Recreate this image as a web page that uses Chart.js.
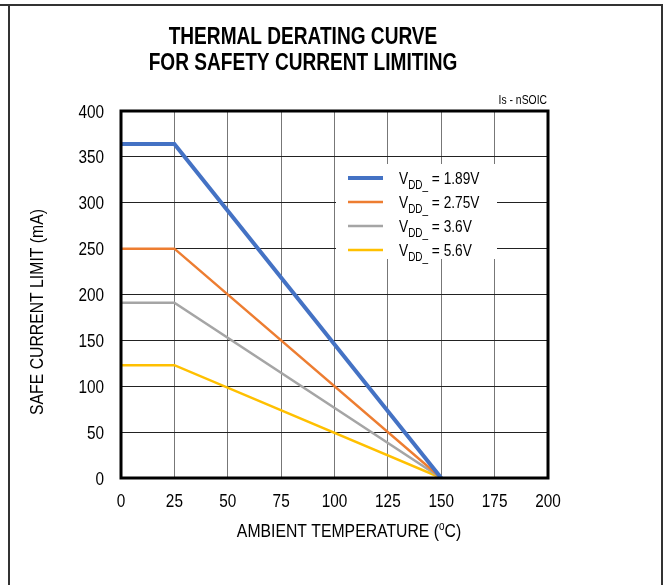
<!DOCTYPE html>
<html>
<head>
<meta charset="utf-8">
<script src="https://cdn.jsdelivr.net/npm/chart.js@4/dist/chart.umd.min.js"></script>
<style>
html,body{margin:0;padding:0;background:#fff;}
#wrap{position:relative;width:664px;height:585px;}
</style>
</head>
<body>
<div id="wrap"><canvas id="c" width="664" height="585"></canvas></div>
<script>
// ---- data ----
const temps = [0, 25, 150];
const seriesNames = ['1.89V', '2.75V', '3.6V', '5.6V'];
const s189 = [364, 364, 0];
const s275 = [250, 250, 0];
const s36  = [191, 191, 0];
const s56  = [123, 123, 0];
const xTicks = [0, 25, 50, 75, 100, 125, 150, 175, 200];
const yTicks = [0, 50, 100, 150, 200, 250, 300, 350, 400];

const FONT = "'Liberation Sans', Arial, sans-serif";
const NARROW = 0.83;
const colors = ['#4472C4', '#ED7D31', '#A5A5A5', '#FFC000'];
const widths = [4, 2.5, 2.5, 2.5];
const allSeries = [s189, s275, s36, s56];

const datasets = allSeries.map((s, i) => ({
  label: 'VDD_ = ' + seriesNames[i],
  data: temps.map((t, j) => ({x: t, y: s[j]})),
  borderColor: colors[i],
  backgroundColor: colors[i],
  borderWidth: widths[i],
  pointRadius: 0,
  tension: 0,
  fill: false,
  order: i
}));

// draws horizontally condensed text (to mimic a narrow face); returns drawn width
function nText(ctx, txt, x, y, font, align) {
  ctx.save();
  ctx.font = font;
  ctx.textBaseline = 'alphabetic';
  const w = ctx.measureText(txt).width * NARROW;
  let x0 = x;
  if (align === 'center') x0 = x - w / 2;
  else if (align === 'right') x0 = x - w;
  ctx.translate(x0, y);
  ctx.scale(NARROW, 1);
  ctx.textAlign = 'left';
  ctx.fillText(txt, 0, 0);
  ctx.restore();
  return w;
}
function nWidth(ctx, txt, font) {
  ctx.save(); ctx.font = font;
  const w = ctx.measureText(txt).width * NARROW;
  ctx.restore(); return w;
}

const decor = {
  id: 'decor',
  beforeDraw(chart) {
    const ctx = chart.ctx;
    ctx.save();
    ctx.fillStyle = '#fff';
    ctx.fillRect(0, 0, chart.width, chart.height);
    ctx.strokeStyle = '#333';
    ctx.lineWidth = 2;
    ctx.beginPath();
    ctx.moveTo(0, 5); ctx.lineTo(663, 5);
    ctx.moveTo(9, 5); ctx.lineTo(9, 585);
    ctx.moveTo(662, 5); ctx.lineTo(662, 585);
    ctx.stroke();
    ctx.fillStyle = '#000';
    // title
    const tf = "bold 23px " + FONT;
    nText(ctx, 'THERMAL DERATING CURVE', 303, 44, tf, 'center');
    nText(ctx, 'FOR SAFETY CURRENT LIMITING', 303, 70, tf, 'center');
    // subtitle
    nText(ctx, 'Is - nSOIC', 547, 104, "12.5px " + FONT, 'right');
    // y axis title
    ctx.save();
    ctx.translate(43, 312);
    ctx.rotate(-Math.PI / 2);
    nText(ctx, 'SAFE CURRENT LIMIT (mA)', 0, 0, "19px " + FONT, 'center');
    ctx.restore();
    // x axis title with superscript o
    const big = "19px " + FONT, small = "12px " + FONT;
    const a = 'AMBIENT TEMPERATURE (', b = 'C)';
    const total = nWidth(ctx, a, big) + nWidth(ctx, 'o', small) + nWidth(ctx, b, big);
    let x0 = 349 - total / 2;
    x0 += nText(ctx, a, x0, 537, big, 'left');
    x0 += nText(ctx, 'o', x0, 530, small, 'left');
    nText(ctx, b, x0, 537, big, 'left');
    ctx.restore();
  },
  afterDraw(chart) {
    const ctx = chart.ctx;
    const ca = chart.chartArea;
    ctx.save();
    ctx.strokeStyle = '#000';
    ctx.lineWidth = 3;
    ctx.strokeRect(ca.left, ca.top, ca.right - ca.left, ca.bottom - ca.top);
    // tick labels
    ctx.fillStyle = '#000';
    const tkf = "18.5px " + FONT;
    const xs = chart.scales.x, ys = chart.scales.y;
    xs.ticks.forEach(t => nText(ctx, String(t.value), xs.getPixelForValue(t.value), 507, tkf, 'center'));
    ys.ticks.forEach(t => nText(ctx, String(t.value), 104, ys.getPixelForValue(t.value) + 6.5, tkf, 'right'));
    // legend
    ctx.fillStyle = '#fff';
    ctx.fillRect(336, 164, 161, 95);
    const rows = [178, 202, 226, 250];
    chart.data.datasets.forEach((ds, i) => {
      const y = rows[i];
      ctx.strokeStyle = ds.borderColor;
      ctx.lineWidth = ds.borderWidth;
      ctx.beginPath();
      ctx.moveTo(348, y); ctx.lineTo(383, y);
      ctx.stroke();
      ctx.fillStyle = '#000';
      let x = 399;
      x += nText(ctx, 'V', x, y + 6, "16.5px " + FONT, 'left');
      x += nText(ctx, 'DD_', x, y + 11, "12px " + FONT, 'left');
      nText(ctx, ' = ' + seriesNames[i], x, y + 6, "16.5px " + FONT, 'left');
    });
    ctx.restore();
  }
};

new Chart(document.getElementById('c'), {
  type: 'line',
  data: { datasets },
  options: {
    responsive: false,
    animation: false,
    layout: { padding: { top: 111, right: 116, bottom: 0, left: 0 } },
    plugins: { legend: { display: false }, title: { display: false }, tooltip: { enabled: false } },
    scales: {
      x: {
        type: 'linear', min: 0, max: 200,
        afterBuildTicks(s) { s.ticks = xTicks.map(v => ({value: v})); },
        afterFit(s) { s.height = 585 - 478; },
        grid: { color: '#777', lineWidth: 1, drawTicks: false },
        border: { display: false },
        ticks: { display: false }
      },
      y: {
        min: 0, max: 400,
        afterBuildTicks(s) { s.ticks = yTicks.map(v => ({value: v})); },
        afterFit(s) { s.width = 121; },
        grid: { color: '#222', lineWidth: 1, drawTicks: false },
        border: { display: false },
        ticks: { display: false }
      }
    }
  },
  plugins: [decor]
});
</script>
</body>
</html>
